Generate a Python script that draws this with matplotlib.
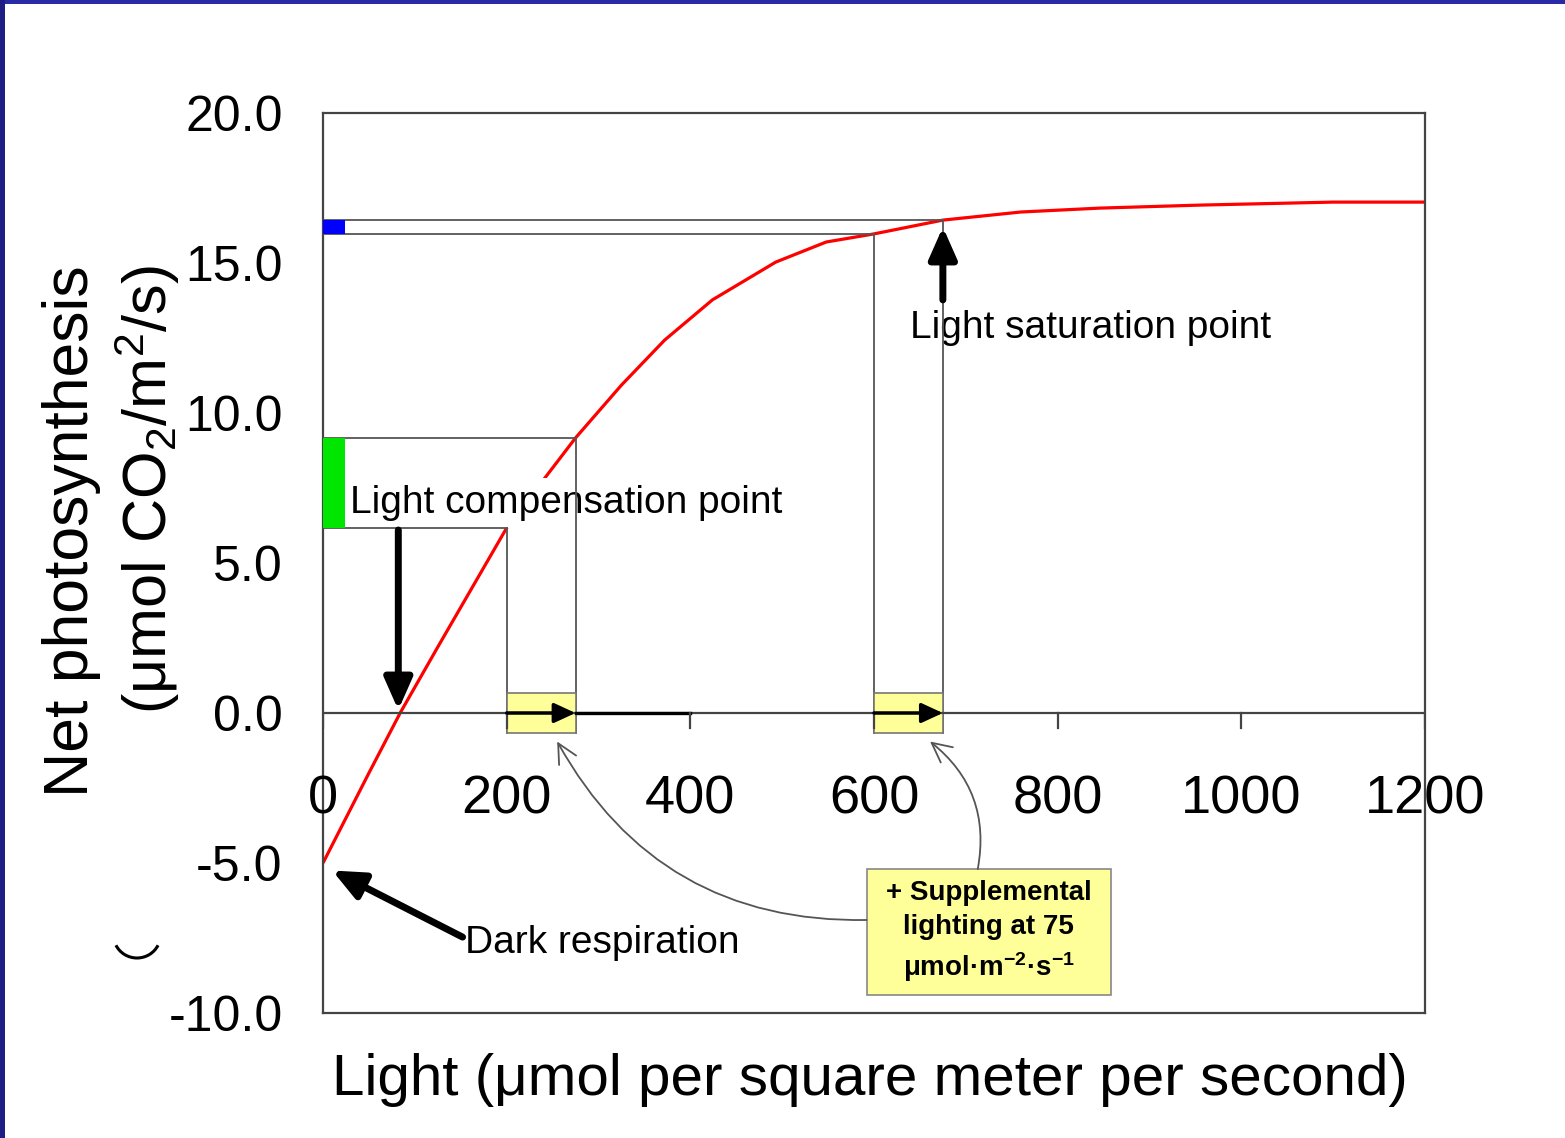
import matplotlib
matplotlib.use('Agg')
import matplotlib.pyplot as plt
from matplotlib.patches import Rectangle, Arc
from matplotlib.transforms import IdentityTransform

plt.rcParams['font.family'] = ['Liberation Sans', 'DejaVu Sans']
plt.rcParams['mathtext.fontset'] = 'custom'
plt.rcParams['mathtext.rm'] = 'Liberation Sans'
plt.rcParams['mathtext.it'] = 'Liberation Sans:italic'
plt.rcParams['mathtext.bf'] = 'Liberation Sans:bold'

# ---------------- data ----------------
light = [0, 50, 84, 125, 200, 240, 275, 325, 372, 424, 493, 548, 600, 675, 760, 846, 955, 1100, 1200]
net_photo = [-5.0, -2.0, 0.0, 2.2, 6.17, 7.77, 9.17, 10.93, 12.43, 13.77, 15.03, 15.7, 15.97, 16.43,
             16.7, 16.83, 16.93, 17.03, 17.03]

x_ticks = [0, 200, 400, 600, 800, 1000, 1200]
y_ticks = [-10, -5, 0, 5, 10, 15, 20]
y_tick_labels = ['-10.0', '-5.0', '0.0', '5.0', '10.0', '15.0', '20.0']

comp_light = [200, 275]       # low light: without / with supplemental
comp_photo = [6.17, 9.17]
sat_light = [600, 675]        # high light: without / with supplemental
sat_photo = [15.97, 16.43]
supplement = 75
compensation_point = 82
dark_respiration = -5.0

W, H = 1565, 1138
fig = plt.figure(figsize=(W / 100, H / 100), dpi=100)
ax = fig.add_axes([323 / W, (H - 1013) / H, 1102 / W, 900 / H])
ax.set_xlim(0, 1200)
ax.set_ylim(-10, 20)

for s in ax.spines.values():
    s.set_color('#444444')
    s.set_linewidth(1.6)
ax.set_xticks([])
ax.set_yticks(y_ticks)
ax.set_yticklabels(y_tick_labels, fontsize=36)
ax.tick_params(axis='y', length=0, pad=29)

# curve
ax.plot(light, net_photo, color='#ff0000', lw=2.3, zorder=2, solid_capstyle='butt')

grey = '#555555'
# rectangles showing effect of supplemental light
ax.plot([0, comp_light[1]], [comp_photo[1]] * 2, color=grey, lw=1.3, zorder=4)
ax.plot([0, comp_light[0]], [comp_photo[0]] * 2, color=grey, lw=1.3, zorder=4)
ax.plot([0, sat_light[1]], [sat_photo[1]] * 2, color=grey, lw=1.3, zorder=4)
ax.plot([0, sat_light[0]], [sat_photo[0]] * 2, color=grey, lw=1.3, zorder=4)
box_h = 0.67
for lx, ly in zip(comp_light + sat_light, comp_photo + sat_photo):
    ax.plot([lx, lx], [ly, -box_h], color=grey, lw=1.3, zorder=4)

ax.add_patch(Rectangle((0, comp_photo[0]), 24, comp_photo[1] - comp_photo[0],
                       fc='#00e600', ec='none', zorder=5))
ax.add_patch(Rectangle((0, sat_photo[0]), 24, sat_photo[1] - sat_photo[0],
                       fc='#0000ff', ec='none', zorder=5))

for start in (comp_light[0], sat_light[0]):
    ax.add_patch(Rectangle((start, -box_h), supplement, 2 * box_h,
                           fc='#ffff99', ec='#777777', lw=1.2, zorder=4))

# x axis at zero
ax.plot([0, 1200], [0, 0], color='#444444', lw=1.6, zorder=5)
ax.plot([comp_light[1], 400], [0, 0], color='black', lw=2.4, zorder=5)
for t in x_ticks:
    ax.plot([t, t], [0, -0.5], color='#444444', lw=1.6, zorder=5)
    ax.text(t, -2.9, str(t), ha='center', va='center', fontsize=39)

small = dict(arrowstyle='-|>,head_length=0.65,head_width=0.3', color='black', lw=2.5,
             mutation_scale=20, shrinkA=0, shrinkB=0)
for a, b in (comp_light, sat_light):
    ax.annotate('', xy=(b, 0), xytext=(a, 0), arrowprops=small, zorder=6)

big = dict(arrowstyle='-|>,head_length=0.95,head_width=0.42', color='black', lw=5,
           mutation_scale=20, shrinkA=0, shrinkB=0)
ax.annotate('', xy=(compensation_point, 0.1), xytext=(compensation_point, 6.1),
            arrowprops=big, zorder=6)
ax.annotate('', xy=(sat_light[1], 16.2), xytext=(sat_light[1], 13.77),
            arrowprops=big, zorder=6)
ax.annotate('', xy=(10, dark_respiration - 0.25), xytext=(152, -7.47),
            arrowprops=big, zorder=6)

# labels
ax.text(29.4, 7.0, 'Light compensation point', fontsize=28, ha='left', va='center', zorder=3,
        bbox=dict(fc='white', ec='none', pad=5))
ax.text(639, 12.85, 'Light saturation point', fontsize=28, ha='left', va='center', zorder=3)
ax.text(154.6, -7.67, 'Dark respiration', fontsize=28, ha='left', va='center', zorder=3)

# supplemental lighting box
ax.add_patch(Rectangle((592, -9.4), 266, 4.2, fc='#ffff99', ec='#888888', lw=1.2, zorder=5))
ax.text(725, -7.3, '+ Supplemental\nlighting at 75\nμmol·m$^{\\mathbf{-2}}$·s$^{\\mathbf{-1}}$',
        fontsize=20, fontweight='bold', ha='center', va='center', linespacing=1.4, zorder=6)
curved = dict(arrowstyle='->,head_length=0.7,head_width=0.35', color=grey, lw=1.3,
              mutation_scale=20, shrinkA=0, shrinkB=0)
ax.annotate('', xy=(255, -0.95), xytext=(592, -6.9),
            arrowprops=dict(curved, connectionstyle='arc3,rad=-0.3'), zorder=6)
ax.annotate('', xy=(661, -0.95), xytext=(713, -5.2),
            arrowprops=dict(curved, connectionstyle='arc3,rad=0.3'), zorder=6)

# axis titles
fig.text(72 / W, 1 - 265 / H, 'Net photosynthesis', rotation=90, ha='center', va='top', fontsize=45)
fig.text(147 / W, 1 - 265 / H, '(μmol CO$_2$/m$^2$/s)', rotation=90, ha='center', va='top', fontsize=44)
fig.text(870 / W, 1 - 1080 / H, 'Light (μmol per square meter per second)', ha='center', va='center',
         fontsize=42)

# slide frame remnants
fig.add_artist(Rectangle((0, H - 4), W, 4, transform=IdentityTransform(), fc='#2a2aa6', ec='none'))
fig.add_artist(Rectangle((0, 0), 5, H, transform=IdentityTransform(), fc='#1e1e85', ec='none'))
fig.add_artist(Arc((137, H - 935), 47, 46, theta1=206, theta2=334, transform=IdentityTransform(),
                   color='black', lw=2.2))

fig.savefig('out.png', dpi=100)
